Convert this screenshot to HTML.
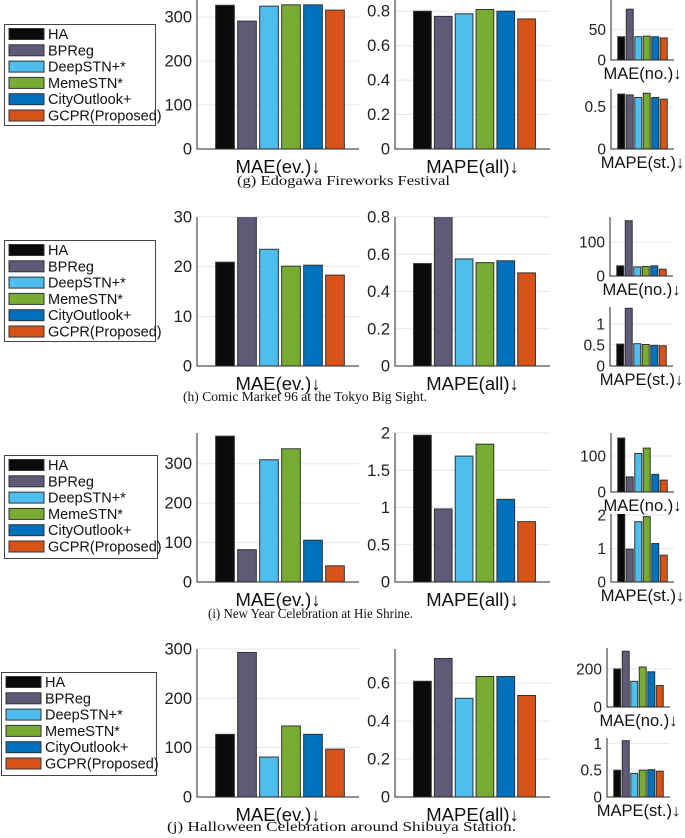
<!DOCTYPE html>
<html><head><meta charset="utf-8"><style>
html,body{margin:0;padding:0;background:#fff;}
svg{display:block;}
</style></head><body>
<svg id="fig" width="685" height="838" xmlns="http://www.w3.org/2000/svg" font-family="Liberation Sans, sans-serif"></svg>
<script>
const methods = ["HA","BPReg","DeepSTN+*","MemeSTN*","CityOutlook+","GCPR(Proposed)"];
const colors = ["#0a0a0a","#5e5a78","#4dbeee","#77ac30","#0072bd","#d95319"];
const captions = ["(g)  Edogawa Fireworks Festival","(h)  Comic Market 96 at the Tokyo Big Sight.","(i)  New Year Celebration at Hie Shrine.","(j)  Halloween Celebration around Shibuya Station."];
// values per row: MAE(ev.), MAPE(all), MAE(no.), MAPE(st.)
const maeEvG = [327,291,325,328,328,316];
const mapeAllG = [0.80,0.77,0.785,0.81,0.80,0.755];
const maeNoG = [38,83,38,39,38,36];
const mapeStG = [0.65,0.64,0.61,0.66,0.61,0.59];
const maeEvH = [20.9,31,23.5,20.1,20.3,18.3];
const mapeAllH = [0.55,0.85,0.575,0.555,0.565,0.50];
const maeNoH = [30,163,27,28,30,20];
const mapeStH = [0.52,1.37,0.53,0.51,0.49,0.48];
const maeEvI = [370,82,310,338,106,41];
const mapeAllI = [1.97,0.98,1.69,1.85,1.11,0.81];
const maeNoI = [150,42,107,122,49,33];
const mapeStI = [2.05,0.98,1.8,1.95,1.15,0.8];
const maeEvJ = [127,293,81,144,127,97];
const mapeAllJ = [0.61,0.73,0.52,0.635,0.635,0.535];
const maeNoJ = [200,293,135,210,185,113];
const mapeStJ = [0.5,1.05,0.44,0.5,0.51,0.48];
const ticksG = [[0,100,200,300],[0,0.2,0.4,0.6,0.8],[0,50],[0,0.5]];
const ticksH = [[0,10,20,30],[0,0.2,0.4,0.6,0.8],[0,100],[0,0.5,1]];
const ticksI = [[0,100,200,300],[0,0.5,1,1.5,2],[0,100],[0,1,2]];
const ticksJ = [[0,100,200,300],[0,0.2,0.4,0.6],[0,200],[0,0.5,1]];
const maxG = [339,0.865,98,0.71];
const maxH = [30,0.8,174,1.4];
const maxI = [378,2,164,2.03];
const maxJ = [300,0.78,310,1.1];
const xlabels = ["MAE(ev.)\u2193","MAPE(all)\u2193","MAE(no.)\u2193","MAPE(st.)\u2193"];

const NS="http://www.w3.org/2000/svg";
const svg=document.getElementById('fig');
function mk(tag,attrs,parent){const e=document.createElementNS(NS,tag);for(const k in attrs)e.setAttribute(k,attrs[k]);(parent||svg).appendChild(e);return e;}

const rows=[
 {vals:[maeEvG,mapeAllG,maeNoG,mapeStG],ticks:ticksG,max:maxG,top:0,bot:149,s1:[0,60],s2:[89,149],sx:611,leg:[4,24,151,101],cap:[237,185,213]},
 {vals:[maeEvH,mapeAllH,maeNoH,mapeStH],ticks:ticksH,max:maxH,top:217,bot:366,s1:[217,276],s2:[307,366],sx:610,leg:[4,240,151,101],cap:[183,401,244]},
 {vals:[maeEvI,mapeAllI,maeNoI,mapeStI],ticks:ticksI,max:maxI,top:433,bot:582,s1:[433,492],s2:[514,582],sx:611,leg:[4,455,153,103],cap:[208,618,205]},
 {vals:[maeEvJ,mapeAllJ,maeNoJ,mapeStJ],ticks:ticksJ,max:maxJ,top:649,bot:797,s1:[648,707],s2:[738,797],sx:607,leg:[1,672,155,103],cap:[167,831,349]}
];

function panel(g,name,x0,x1,y0,y1,vmax,ticks,vals,label,small){
  const pg=mk('g',{},g);
  
  
  const ys=v=>y1-(v/vmax)*(y1-y0);
  ticks.forEach(t=>{
    const y=ys(t);
    if(t>0){const gl=mk('line',{x1:x0,x2:x1,y1:y,y2:y,stroke:'#e6e6e6','stroke-width':1},pg);
      }
    const tl=mk('text',{x:x0-5,y:y+5.5,'text-anchor':'end','font-size':small?15.5:16.5,fill:'#222'},pg);
    tl.textContent=String(t);
    
    
  });
  const padL=small?6:17,padR=small?6:13;
  const a=x0+padL,b=x1-padR,slot=(b-a)/vals.length,bw=slot*(small?0.82:0.85);
  const cp=mk('clipPath',{id:name+'-clip'},pg);
  mk('rect',{x:x0,y:y0,width:x1-x0,height:y1-y0},cp);
  vals.forEach((v,i)=>{
    const yv=Math.max(ys(v),y0-2);
    const r=mk('rect',{x:a+i*slot+(slot-bw)/2,y:yv,width:bw,height:y1-yv,fill:colors[i],stroke:'#333','stroke-width':1,'clip-path':'url(#'+name+'-clip)'},pg);
    
    
  });
  const ax=mk('path',{d:`M${x0},${y0}V${y1}H${x1}`,fill:'none',stroke:'#262626','stroke-width':1},pg);
  
  
  const xl=mk('text',{x:(x0+x1)/2,y:y1+(small?19:24),'text-anchor':'middle','font-size':small?16.5:18.5,fill:'#111'},pg);
  xl.textContent=label;
  
  
}

rows.forEach((r,ri)=>{
  const g=mk('g',{});
  
  
  const [lx,ly,lw,lh]=r.leg;
  const lg=mk('g',{},g);
  
  
  mk('rect',{x:lx+0.5,y:ly+0.5,width:lw,height:lh,fill:'#fff',stroke:'#444','stroke-width':1},lg);
  methods.forEach((m,i)=>{
    const cy=ly+10+i*16.3;
    const sw=mk('rect',{x:lx+5,y:cy-5.5,width:35,height:11,fill:colors[i],stroke:'#333','stroke-width':1},lg);
    
    
    const t=mk('text',{x:lx+44,y:cy+5,'font-size':14.5,fill:'#111'},lg);
    t.textContent=m;
    
    
  });
  panel(g,'mae-ev-chart-'+ri,197,359,r.top,r.bot,r.max[0],r.ticks[0],r.vals[0],xlabels[0],false);
  panel(g,'mape-all-chart-'+ri,395,550,r.top,r.bot,r.max[1],r.ticks[1],r.vals[1],xlabels[1],false);
  panel(g,'mae-no-chart-'+ri,r.sx,r.sx+63,r.s1[0],r.s1[1],r.max[2],r.ticks[2],r.vals[2],xlabels[2],true);
  panel(g,'mape-st-chart-'+ri,r.sx,r.sx+63,r.s2[0],r.s2[1],r.max[3],r.ticks[3],r.vals[3],xlabels[3],true);
  const c=mk('text',{x:r.cap[0],y:r.cap[1],'font-size':14,'font-family':'Liberation Serif, serif',fill:'#111',textLength:r.cap[2],lengthAdjust:'spacingAndGlyphs'},g);
  c.textContent=captions[ri];
  
  
});
</script>
</body></html>
